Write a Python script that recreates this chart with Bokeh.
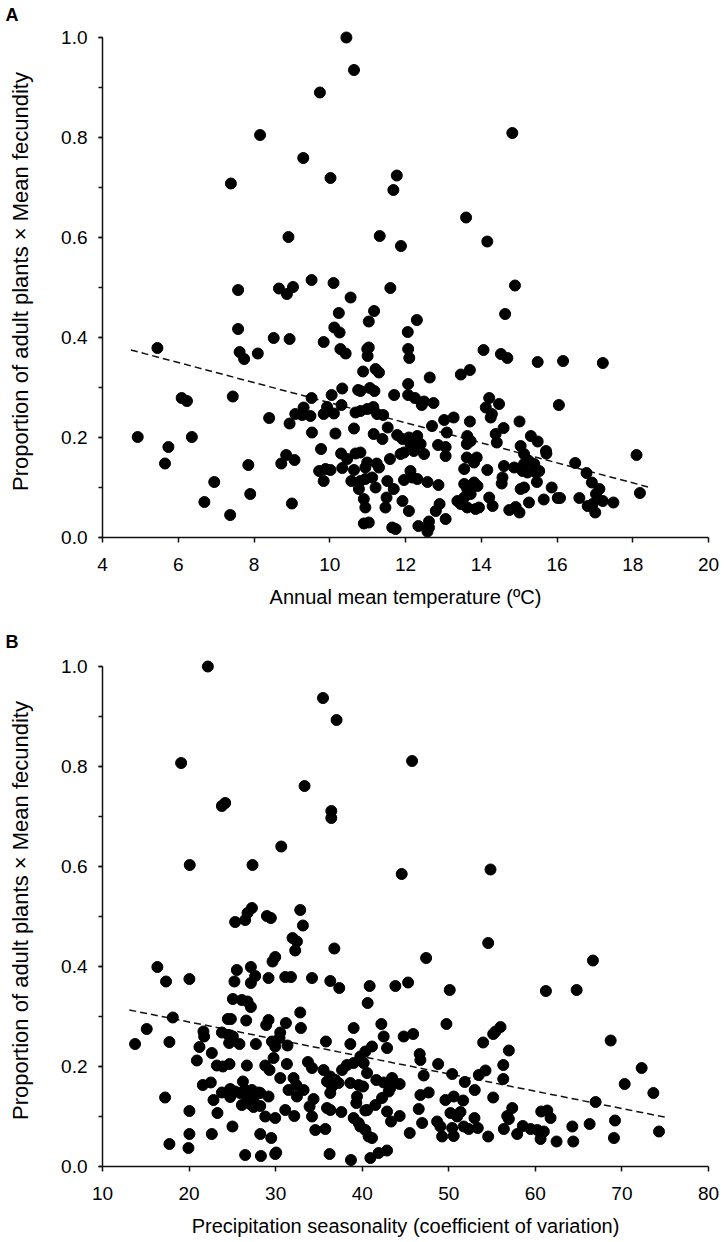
from bokeh.plotting import figure
from bokeh.layouts import column
from bokeh.models import Range1d, SingleIntervalTicker, NumeralTickFormatter, Title
from bokeh.embed import file_html
from bokeh.resources import INLINE

# ---------------- Panel A: annual mean temperature ----------------
temperature = [
    10.44, 10.64, 9.74, 8.16, 9.30, 7.39, 10.02, 8.91, 7.58, 8.66, 9.03, 9.52, 10.10, 8.87, 10.55, 14.82, 11.77, 11.68, 13.60, 11.32, 11.88, 14.16, 11.60, 14.89,
    11.17, 11.03, 14.63, 12.30, 12.06, 10.99, 11.03, 11.00, 12.07, 12.10, 14.06, 14.52, 14.69, 15.49, 16.16, 17.21,
    10.88, 11.21, 11.30, 12.64, 13.46, 13.70, 12.07, 10.81, 11.06, 11.18, 11.70, 12.07, 12.25, 12.43, 12.49, 12.74,
    14.21, 14.12, 14.47, 14.28, 14.25, 16.05, 10.81, 10.99, 11.15, 11.25, 11.41, 13.02, 13.27, 13.70, 15.01, 12.70, 11.53,
    14.59, 14.38, 14.41, 13.09, 11.16, 11.39, 11.78, 11.92, 12.09, 12.31, 12.13, 12.40, 12.22, 12.49, 11.96, 11.87,
    13.63, 13.72, 13.62, 12.86, 13.06, 13.06, 15.04, 15.13, 15.31, 15.49, 15.26, 15.40, 15.13, 15.53, 15.44, 15.71, 15.72, 16.48, 16.78,
    16.92, 17.12, 17.03, 16.94, 16.81, 17.01, 17.21, 17.49, 18.10, 18.19, 16.59, 16.02, 16.08, 15.86, 15.65, 15.26, 14.74, 14.91, 15.01,
    14.60, 14.56, 14.54, 14.87, 15.09, 15.22, 15.13, 15.04, 15.47, 14.21, 14.30, 14.16, 13.55, 13.81, 13.88, 13.62,
    13.55, 13.63, 13.81, 13.90, 13.72, 13.55, 13.37, 13.46, 13.63, 13.85, 13.94, 12.87, 12.58, 12.31, 12.13, 12.18, 11.96,
    11.92, 12.09, 12.80, 12.90, 13.06, 12.34, 12.62, 12.62, 12.58, 11.65, 11.74, 10.90, 11.03, 10.90, 10.94, 11.50, 11.47,
    10.81, 10.94, 11.12, 11.21, 11.52, 11.69, 10.99, 11.24, 11.30, 10.94, 11.59, 10.81,
    5.45, 4.93, 5.74, 5.65, 6.09, 6.23, 6.36, 6.95, 6.69, 7.37, 7.44, 7.58, 7.62, 7.74, 8.10, 7.85, 7.90,
    8.52, 8.94, 8.40, 8.94, 8.72, 8.85, 9.07, 9.00, 9.09, 9.31, 9.49, 9.27, 9.52, 9.53, 9.84, 10.05, 9.93, 9.84, 10.11, 10.31, 10.33, 10.75, 10.15, 10.64, 9.77, 10.30, 10.68, 10.46,
    9.72, 9.89, 10.02, 9.84, 10.33, 10.64, 10.57, 10.77, 10.24, 10.12, 10.26, 10.28, 10.42, 10.68,
]
fecundity_a = [
    1.0, 0.935, 0.89, 0.805, 0.759, 0.708, 0.719, 0.601, 0.495, 0.498, 0.501, 0.515, 0.509, 0.487, 0.48, 0.809, 0.724, 0.695, 0.64, 0.603, 0.583, 0.592, 0.499, 0.504,
    0.453, 0.432, 0.447, 0.435, 0.411, 0.377, 0.38, 0.363, 0.377, 0.359, 0.375, 0.367, 0.359, 0.351, 0.353, 0.349,
    0.332, 0.337, 0.33, 0.32, 0.326, 0.335, 0.307, 0.293, 0.299, 0.293, 0.285, 0.285, 0.279, 0.265, 0.272, 0.269,
    0.279, 0.26, 0.267, 0.247, 0.24, 0.265, 0.253, 0.257, 0.261, 0.247, 0.245, 0.235, 0.24, 0.232, 0.232, 0.223, 0.22,
    0.219, 0.207, 0.19, 0.21, 0.207, 0.197, 0.205, 0.197, 0.2, 0.203, 0.187, 0.187, 0.173, 0.167, 0.17, 0.167,
    0.203, 0.193, 0.187, 0.185, 0.181, 0.163, 0.183, 0.167, 0.203, 0.192, 0.153, 0.147, 0.147, 0.133, 0.13, 0.173, 0.168, 0.149, 0.129,
    0.11, 0.097, 0.087, 0.067, 0.063, 0.05, 0.073, 0.07, 0.165, 0.089, 0.079, 0.079, 0.079, 0.1, 0.076, 0.07, 0.055, 0.061, 0.05,
    0.143, 0.12, 0.108, 0.14, 0.133, 0.13, 0.1, 0.097, 0.111, 0.08, 0.063, 0.135, 0.137, 0.15, 0.16, 0.16,
    0.107, 0.097, 0.11, 0.103, 0.087, 0.08, 0.073, 0.067, 0.06, 0.057, 0.06, 0.105, 0.111, 0.117, 0.133, 0.12, 0.115,
    0.073, 0.053, 0.053, 0.067, 0.037, 0.023, 0.032, 0.02, 0.012, 0.02, 0.017, 0.028, 0.03, 0.077, 0.06, 0.08, 0.06,
    0.113, 0.117, 0.12, 0.1, 0.113, 0.097, 0.15, 0.148, 0.14, 0.14, 0.157, 0.17,
    0.379, 0.201, 0.181, 0.148, 0.279, 0.273, 0.201, 0.111, 0.071, 0.045, 0.282, 0.417, 0.371, 0.357, 0.368, 0.145, 0.087,
    0.399, 0.397, 0.239, 0.228, 0.148, 0.165, 0.155, 0.068, 0.247, 0.26, 0.243, 0.245, 0.279, 0.21, 0.391, 0.285, 0.261, 0.247, 0.248, 0.265, 0.298, 0.295, 0.208, 0.218, 0.177, 0.168, 0.168, 0.157,
    0.133, 0.137, 0.135, 0.113, 0.139, 0.135, 0.113, 0.097, 0.449, 0.42, 0.41, 0.377, 0.368, 0.25,
]
trend_a_x = [4.75, 18.41]
trend_a_y = [0.375, 0.101]

# ---------------- Panel B: precipitation seasonality ----------------
seasonality = [
    22.17, 35.47, 37.04, 19.08, 33.34, 23.79, 24.17, 36.43, 36.43, 30.65, 20.08, 27.33, 32.84, 45.76, 44.56, 54.82,
    27.26, 26.75, 26.48, 25.32, 28.99, 29.45, 33.15, 31.95, 32.46, 32.26, 36.78, 29.95, 29.64,
    16.34, 17.34, 20.04, 25.52, 25.24, 27.14, 27.64, 27.14, 29.18, 31.11, 31.77, 34.20, 36.31, 37.35,
    25.06, 26.10, 26.75, 27.14, 18.12, 15.11, 13.76, 17.73, 21.66, 21.74, 24.48, 24.83, 26.60, 23.79, 24.55, 25.06, 24.63, 25.82,
    29.18, 28.91, 31.19, 32.84, 32.92, 30.53, 30.45, 27.72, 29.57, 29.95, 31.37, 35.81, 38.63, 39.01,
    21.20, 22.63, 20.90, 23.21, 23.90, 24.67, 26.68, 28.80, 29.29, 29.76, 31.30, 30.53, 33.73, 34.20,
    35.54, 36.31, 36.89, 37.67, 38.24, 39.01, 39.78, 21.59, 22.51, 17.23, 22.82,
    23.79, 24.75, 25.32, 24.75, 26.22, 26.48, 25.90, 26.68, 27.26, 28.02, 27.45, 28.22, 29.18, 26.10, 27.06, 27.45, 28.22, 28.80, 29.95,
    23.28, 20.04, 25.01, 22.63, 20.04, 19.93, 17.73, 28.22, 29.49, 26.48, 28.30, 29.95, 30.07, 36.23, 38.70,
    39.01, 39.59, 40.36, 33.92, 34.38, 34.20, 34.58, 35.74, 36.31, 35.93, 37.59, 35.93, 36.51, 37.27, 36.31,
    38.63, 39.59, 40.10, 39.40, 39.32, 31.11, 32.15, 31.49, 32.46, 32.07, 33.23, 32.38,
    54.55, 47.38, 66.65, 40.86, 40.63, 43.83, 45.30, 50.11, 61.22, 64.77, 49.73,
    42.21, 42.48, 42.87, 44.79, 45.88, 55.98, 55.40, 55.13, 53.97, 56.94, 68.70, 41.13, 40.36,
    46.64, 46.72, 48.77, 56.29, 72.28, 40.17, 40.56, 41.63, 42.48, 43.45, 43.25, 44.33, 43.06, 42.29, 41.52, 40.56,
    47.10, 50.39, 51.85, 53.47, 54.24, 56.29, 53.00, 46.72, 47.68, 49.61, 50.57, 51.66, 55.13, 66.96, 70.32, 73.63,
    42.87, 43.33, 44.33, 46.53, 46.92, 45.49, 50.19, 51.35, 50.97, 48.65, 49.03, 50.39, 49.23, 50.57, 51.73, 52.31, 52.97, 53.35, 54.55,
    57.33, 56.75, 56.94, 56.36, 57.90, 58.55, 59.45, 60.22, 60.98, 60.60, 60.68, 61.38, 61.76, 62.45, 64.27, 64.38, 66.27, 69.20, 69.08, 74.28,
    39.78, 40.36, 40.74, 41.13, 40.94, 41.90, 42.87,
]
fecundity_b = [
    1.0, 0.937, 0.893, 0.807, 0.761, 0.721, 0.727, 0.711, 0.697, 0.64, 0.603, 0.603, 0.513, 0.811, 0.585, 0.594,
    0.517, 0.507, 0.493, 0.489, 0.501, 0.497, 0.482, 0.457, 0.45, 0.432, 0.436, 0.419, 0.41,
    0.399, 0.37, 0.375, 0.393, 0.37, 0.399, 0.381, 0.367, 0.377, 0.379, 0.379, 0.377, 0.371, 0.357,
    0.335, 0.333, 0.33, 0.319, 0.298, 0.275, 0.245, 0.249, 0.27, 0.26, 0.295, 0.295, 0.292, 0.268, 0.263, 0.26, 0.247, 0.245,
    0.293, 0.283, 0.287, 0.308, 0.277, 0.268, 0.257, 0.245, 0.25, 0.24, 0.242, 0.25, 0.245, 0.277,
    0.239, 0.227, 0.212, 0.202, 0.2, 0.205, 0.202, 0.202, 0.193, 0.217, 0.205, 0.177, 0.209, 0.197,
    0.193, 0.18, 0.173, 0.193, 0.203, 0.207, 0.22, 0.163, 0.168, 0.138, 0.133,
    0.148, 0.155, 0.15, 0.139, 0.17, 0.153, 0.147, 0.14, 0.153, 0.148, 0.137, 0.147, 0.14, 0.123, 0.125, 0.119, 0.121, 0.1, 0.097,
    0.107, 0.111, 0.08, 0.065, 0.065, 0.037, 0.045, 0.065, 0.057, 0.023, 0.021, 0.025, 0.028, 0.025, 0.013,
    0.097, 0.087, 0.112, 0.12, 0.135, 0.1, 0.073, 0.075, 0.113, 0.117, 0.109, 0.17, 0.16, 0.167, 0.147,
    0.167, 0.163, 0.16, 0.14, 0.127, 0.113, 0.101, 0.153, 0.14, 0.177, 0.153, 0.163,
    0.447, 0.417, 0.412, 0.361, 0.327, 0.361, 0.368, 0.353, 0.351, 0.353, 0.285,
    0.285, 0.26, 0.237, 0.26, 0.265, 0.279, 0.27, 0.265, 0.248, 0.232, 0.252, 0.24, 0.23,
    0.225, 0.213, 0.205, 0.203, 0.197, 0.207, 0.187, 0.173, 0.168, 0.177, 0.157, 0.165, 0.15, 0.137, 0.123, 0.113,
    0.182, 0.185, 0.169, 0.183, 0.192, 0.175, 0.153, 0.143, 0.148, 0.133, 0.14, 0.132, 0.138, 0.129, 0.165, 0.147,
    0.11, 0.09, 0.101, 0.115, 0.087, 0.067, 0.107, 0.109, 0.1, 0.09, 0.08, 0.077, 0.06, 0.061, 0.08, 0.075, 0.097, 0.077, 0.06,
    0.117, 0.101, 0.095, 0.075, 0.065, 0.081, 0.075, 0.073, 0.07, 0.055, 0.11, 0.112, 0.097, 0.05, 0.08, 0.05, 0.085, 0.092, 0.057, 0.07,
    0.08, 0.073, 0.06, 0.057, 0.017, 0.027, 0.032,
]
trend_b_x = [13.1, 75.17]
trend_b_y = [0.313, 0.098]

y_title = "Proportion of adult plants \u00d7 Mean fecundity"
FONT = "Liberation Sans"
INK = "#111111"


def make_panel(xs, ys, tx, ty, x_start, x_end, x_step, x_title, letter, top, bottom, letter_standoff):
    p = figure(frame_width=606, frame_height=512,
               x_range=Range1d(x_start, x_end), y_range=Range1d(0, 1.024),
               output_backend="svg", toolbar_location=None,
               min_border_left=102, min_border_right=14,
               min_border_top=top, min_border_bottom=bottom)
    p.outline_line_color = None
    p.grid.visible = False
    p.background_fill_color = "white"

    p.line(tx, ty, line_dash="7 4", line_width=1.5, line_color=INK)
    p.scatter(xs, ys, size=11, fill_color="black", line_color="black")

    xa = p.xaxis[0]
    xa.ticker = SingleIntervalTicker(interval=x_step, num_minor_ticks=0)
    xa.axis_line_width = 1.5
    xa.axis_line_color = INK
    xa.major_tick_line_color = INK
    xa.major_tick_line_width = 1.5
    xa.major_tick_in = 0
    xa.major_tick_out = 5
    xa.minor_tick_line_color = None
    xa.major_label_text_font = FONT
    xa.major_label_text_font_size = "19px"
    xa.major_label_text_color = "black"
    xa.major_label_standoff = 15
    xa.axis_label = x_title
    xa.axis_label_text_font = FONT
    xa.axis_label_text_font_size = "20px"
    xa.axis_label_text_font_style = "normal"
    xa.axis_label_text_color = "black"
    xa.axis_label_standoff = 12

    ya = p.yaxis[0]
    ya.ticker = SingleIntervalTicker(interval=0.2, num_minor_ticks=2)
    ya.bounds = (0, 1.0)
    ya.formatter = NumeralTickFormatter(format="0.0")
    ya.axis_line_width = 1.5
    ya.axis_line_color = INK
    ya.major_tick_line_color = INK
    ya.major_tick_line_width = 1.5
    ya.minor_tick_line_color = INK
    ya.minor_tick_line_width = 1.5
    ya.major_tick_in = 0
    ya.major_tick_out = 4
    ya.minor_tick_in = 0
    ya.minor_tick_out = 4
    ya.major_label_text_font = FONT
    ya.major_label_text_font_size = "19px"
    ya.major_label_text_color = "black"
    ya.major_label_standoff = 11
    ya.axis_label = y_title
    ya.axis_label_text_font = FONT
    ya.axis_label_text_font_size = "22px"
    ya.axis_label_text_font_style = "normal"
    ya.axis_label_text_color = "black"
    ya.axis_label_standoff = 25

    p.add_layout(Title(text=letter, align="left", offset=-97, standoff=letter_standoff,
                       text_font=FONT, text_font_size="18px", text_font_style="bold",
                       text_color="black"), "above")
    return p


pa = make_panel(temperature, fecundity_a, trend_a_x, trend_a_y, 4, 20, 2,
                "Annual mean temperature (\u00baC)", "A", 25, 80, 1)
pb = make_panel(seasonality, fecundity_b, trend_b_x, trend_b_y, 10, 80, 10,
                "Precipitation seasonality (coefficient of variation)", "B", 37, 75, 5)

layout = column(pa, pb, spacing=0)
open("out.html", "w").write(file_html(layout, INLINE))
